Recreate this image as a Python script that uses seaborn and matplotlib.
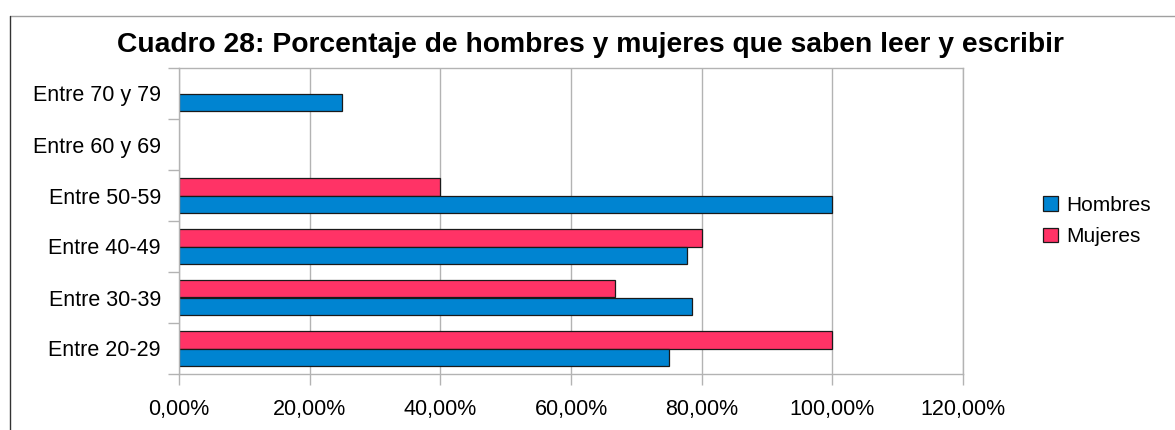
import numpy as np
import pandas as pd
import matplotlib
matplotlib.use('Agg')
import matplotlib.pyplot as plt
import seaborn as sns
from matplotlib.lines import Line2D
from matplotlib.patches import Patch
from matplotlib.ticker import FuncFormatter, FixedLocator

# datos del cuadro 28 (porcentaje que sabe leer y escribir)
grupos = ['Entre 70 y 79', 'Entre 60 y 69', 'Entre 50-59',
          'Entre 40-49', 'Entre 30-39', 'Entre 20-29']
hombres = [25.0, np.nan, 100.0, 77.78, 78.57, 75.0]
mujeres = [np.nan, np.nan, 40.0, 80.0, 66.67, 100.0]
x_ticks = [0, 20, 40, 60, 80, 100, 120]

colores = {'Hombres': '#0084d1', 'Mujeres': '#ff3366'}

df = pd.DataFrame({
    'grupo': grupos * 2,
    'sexo': ['Hombres'] * len(grupos) + ['Mujeres'] * len(grupos),
    'valor': hombres + mujeres,
})

sns.set_theme(style='white')
plt.rcParams['font.family'] = ['Liberation Sans', 'DejaVu Sans']

fig = plt.figure(figsize=(11.75, 4.3), dpi=100)
ax = fig.add_axes([179 / 1175, 1 - 374 / 430, (963 - 179) / 1175, (374 - 68) / 430])

sns.barplot(
    data=df, y='grupo', x='valor', hue='sexo', orient='h',
    order=grupos, hue_order=['Mujeres', 'Hombres'], palette=colores,
    saturation=1, width=0.67, errorbar=None, edgecolor='#1a1a1a',
    linewidth=0.9, legend=False, ax=ax,
)

ax.set_xlim(0, 120)
ax.set_ylim(len(grupos) - 0.5, -0.5)
ax.set_xlabel('')
ax.set_ylabel('')
ax.xaxis.set_major_locator(FixedLocator(x_ticks))
ax.xaxis.set_major_formatter(FuncFormatter(lambda v, p: f'{v:.2f}%'.replace('.', ',')))
ax.grid(axis='x', color='#b3b3b3', linewidth=1)
ax.set_axisbelow(True)

# marcas del eje y en los limites de cada categoria
ax.yaxis.set_minor_locator(FixedLocator(np.arange(-0.5, len(grupos), 1.0)))
ax.tick_params(axis='y', which='major', length=0, pad=13, labelsize=15.5,
               labelcolor='black')
ax.tick_params(axis='y', which='minor', length=8, width=1, color='#b3b3b3', left=True)
ax.tick_params(axis='x', which='major', length=8, width=1, color='#b3b3b3',
               pad=10, labelsize=15.5, labelcolor='black', bottom=True)

for lado in ['top', 'right', 'left', 'bottom']:
    ax.spines[lado].set_visible(True)
    ax.spines[lado].set_color('#b3b3b3')
    ax.spines[lado].set_linewidth(1)

fig.text(590.5 / 1175, 1 - 45 / 430,
         'Cuadro 28: Porcentaje de hombres y mujeres que saben leer y escribir',
         ha='center', va='center', fontsize=20.3, fontweight='bold', color='black')

handles = [Patch(facecolor=colores[s], edgecolor='#1a1a1a', linewidth=0.9)
           for s in ['Hombres', 'Mujeres']]
leg = fig.legend(handles, ['Hombres', 'Mujeres'], loc='center left',
                 bbox_to_anchor=(1043 / 1175, 1 - 221 / 430), frameon=False,
                 fontsize=15, handlelength=0.72, handleheight=0.72,
                 handletextpad=0.4, labelspacing=0.6, borderpad=0, borderaxespad=0)
for t in leg.get_texts():
    t.set_color('black')

# marco del grafico
fig.add_artist(Line2D([10 / 1175, 1], [1 - 16 / 430] * 2, color='#a0a0a0', linewidth=1))
fig.add_artist(Line2D([10 / 1175] * 2, [0, 1 - 16 / 430], color='#333333', linewidth=1))

fig.savefig('out.png', dpi=100)
